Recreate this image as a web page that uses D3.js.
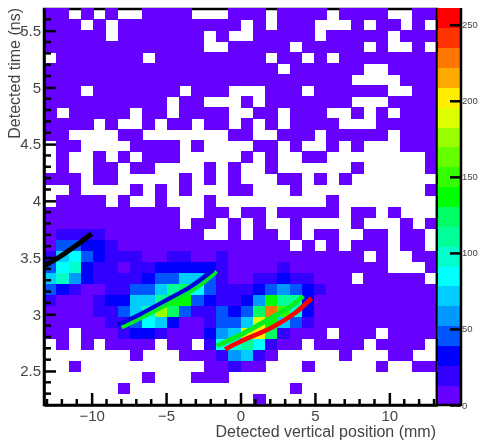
<!DOCTYPE html>
<html>
<head>
<meta charset="utf-8">
<script src="https://cdn.jsdelivr.net/npm/d3@7"></script>
<style>
html,body{margin:0;padding:0;background:#fff;}
svg{display:block;filter:blur(0.45px);}
text{font-family:"Liberation Sans",Arial,sans-serif;fill:#444;}
</style>
</head>
<body>
<div id="chart"></div>
<script>
// Histogram bin counts, top row first (0 = empty bin)
const counts = [
[4,4,0,4,0,4,0,0,4,4,4,4,0,0,0,4,4,4,0,4,4,4,4,0,4,4,4,4,0,0,4,4],
[4,4,4,0,4,0,4,4,4,4,4,4,4,4,4,4,0,4,0,4,4,4,0,0,0,4,0,4,4,0,4,0],
[4,4,4,4,4,0,4,4,4,4,4,4,4,0,4,0,0,4,4,4,4,4,0,4,4,4,4,4,0,4,4,4],
[4,4,4,4,4,4,4,4,4,4,4,4,4,0,0,4,4,4,4,4,0,4,4,4,4,4,0,4,0,0,4,0],
[0,4,4,4,4,4,4,4,0,4,4,4,4,4,4,4,4,4,0,4,4,0,4,0,4,4,4,4,4,4,4,4],
[4,4,4,4,4,4,4,4,4,4,4,4,4,4,4,4,4,4,4,0,4,4,4,4,4,4,0,0,4,4,4,4],
[4,4,4,4,4,4,4,4,4,4,4,4,4,4,4,4,4,4,4,4,4,4,4,4,4,0,0,0,0,4,4,4],
[4,4,4,0,4,4,4,4,4,4,4,0,4,4,4,0,0,0,4,4,4,0,4,4,4,4,4,4,0,0,4,4],
[4,4,4,4,4,4,4,4,4,4,0,4,4,0,0,0,4,0,4,4,4,4,4,4,4,0,0,0,4,4,4,4],
[4,0,4,4,4,4,4,0,4,4,0,4,4,4,4,0,0,4,4,0,4,4,4,0,0,4,0,4,0,4,4,4],
[4,4,4,4,0,4,0,0,4,0,4,4,0,4,4,0,4,0,4,0,4,4,4,4,0,0,0,4,4,4,4,4],
[4,4,0,0,0,0,4,4,0,0,0,0,0,0,0,4,4,0,0,4,4,4,0,4,4,4,4,4,0,4,4,4],
[0,4,4,0,0,0,0,4,4,4,4,0,4,0,0,0,0,4,4,0,4,0,0,4,0,4,0,0,0,4,4,4],
[0,4,0,0,4,0,4,0,4,4,4,0,0,0,0,0,4,0,4,0,0,4,4,0,0,0,0,0,0,0,0,4],
[0,4,0,0,4,4,0,4,4,0,0,0,0,4,0,4,0,0,4,0,0,0,0,0,0,4,0,0,0,0,0,4],
[4,4,4,0,4,4,0,0,0,0,0,4,0,4,0,4,0,0,0,4,4,0,4,0,4,0,0,0,0,0,0,0],
[0,0,4,0,0,0,0,4,0,4,0,4,0,0,0,4,4,0,0,0,4,0,0,0,0,0,0,0,0,0,0,4],
[0,4,4,4,4,0,4,0,0,4,0,0,0,4,0,0,0,0,0,0,0,0,0,4,0,0,0,0,0,0,0,0],
[4,4,4,4,4,4,4,4,4,4,4,0,0,4,4,0,4,4,0,4,4,4,4,4,0,4,4,0,4,0,0,0],
[4,4,4,4,4,4,4,4,4,4,4,0,4,4,0,4,0,4,0,0,4,0,0,0,0,4,0,0,0,4,0,4],
[4,20,20,20,20,4,4,4,4,4,4,4,4,0,0,4,0,4,4,0,4,0,4,4,0,0,4,4,0,4,4,0],
[4,46,46,33,33,20,4,4,4,4,4,4,4,4,4,4,4,4,4,4,0,4,0,4,0,4,4,4,0,4,4,0],
[20,72,85,46,33,20,20,20,4,4,20,20,4,4,20,4,4,4,4,4,4,4,4,4,4,4,0,4,0,0,4,4],
[46,85,98,33,20,20,4,20,20,33,33,33,33,33,20,4,4,4,4,20,4,4,4,4,4,4,4,4,0,0,0,4],
[72,98,59,33,20,20,20,20,33,46,46,72,72,46,20,4,4,20,20,33,20,20,4,4,4,0,4,4,4,4,4,0],
[46,33,20,4,4,20,20,46,46,72,111,124,85,46,20,20,20,33,46,59,46,33,20,4,4,4,4,4,4,4,4,4],
[20,4,4,4,20,33,33,72,72,111,137,137,46,33,20,20,33,59,137,111,111,33,4,4,4,4,4,4,4,4,4,4],
[4,4,4,4,20,20,46,72,98,176,124,46,20,20,46,33,46,124,228,150,98,33,4,4,4,4,4,4,4,4,4,4],
[4,4,4,4,4,20,20,46,85,72,33,4,4,20,46,46,72,189,137,72,46,20,4,4,4,4,4,4,4,4,4,4],
[4,4,0,4,4,4,20,33,33,20,4,4,4,33,59,72,189,202,124,20,4,4,4,0,4,4,4,0,4,4,4,4],
[0,4,0,4,0,4,4,4,4,0,4,4,0,20,85,98,111,85,20,4,4,0,4,4,4,4,0,4,4,4,4,0],
[0,0,0,0,0,0,0,4,0,0,0,4,4,4,20,59,72,20,4,0,0,0,0,0,4,0,0,0,4,4,0,0],
[0,0,4,0,0,0,0,0,0,0,0,0,0,4,4,20,4,4,0,0,0,4,0,0,0,0,0,4,0,0,4,4],
[0,0,0,0,0,0,0,0,4,0,0,0,4,4,4,0,0,0,0,0,0,0,0,0,0,0,0,0,0,0,0,0],
[0,0,0,0,0,0,4,0,0,0,0,0,0,0,0,0,0,0,0,0,4,0,0,0,0,0,0,0,0,0,0,0],
[0,0,0,0,0,0,0,0,0,0,0,0,0,0,0,0,0,4,0,0,0,0,0,0,0,0,0,0,0,0,0,0]
];

const palette = ["#6600ff","#3300ff","#0000ff","#0055ff","#0099ff","#00ccff","#00ffff","#00ffcc","#00ff99","#00ff66","#00ff00","#33ff00","#66ff00","#99ff00","#ddff00","#ffee00","#ffaa00","#ff7700","#ff3300","#ff0000"];
const zMax = 261;

const xDomain = [-13.2, 13.2];
const yDomain = [2.2, 5.7];
const xMajor = [-10, -5, 0, 5, 10];
const xLabels = ["\u221210", "\u22125", "0", "5", "10"];
const xMinor = [-13,-12,-11,-9,-8,-7,-6,-4,-3,-2,-1,1,2,3,4,6,7,8,9,11,12,13];
const yMajor = [2.5, 3, 3.5, 4, 4.5, 5, 5.5];
const yLabels = ["2.5", "3", "3.5", "4", "4.5", "5", "5.5"];
const yMinor = [2.3,2.4,2.6,2.7,2.8,2.9,3.1,3.2,3.3,3.4,3.6,3.7,3.8,3.9,4.1,4.2,4.3,4.4,4.6,4.7,4.8,4.9,5.1,5.2,5.3,5.4,5.6];
const zMajor = [0, 50, 100, 150, 200, 250];

// Overlaid curves [position mm, time ns]
const curveBlack = [[-13.15,3.43],[-12,3.52],[-11,3.61],[-10,3.71]];
const curveBlue  = [[-8.27,2.905],[-6.75,3.0],[-4.96,3.126],[-3.39,3.24],[-1.83,3.39]];
const curveGreenA = [[-7.98,2.883],[-6.41,2.985],[-4.73,3.099],[-3.06,3.223],[-1.6,3.377]];
const curveGreenB = [[-1.6,2.72],[-0.03,2.817],[2.2,2.978],[3.32,3.064],[4.22,3.161]];
const curveRed   = [[-1.04,2.691],[-0.03,2.758],[2.2,2.89],[3.66,3.011],[4.78,3.141]];

const W = 479, H = 442;
const L = 44, R = 437, T = 8, B = 405;
const barL = 438, barR = 461;

const svg = d3.select("#chart").append("svg").attr("width", W).attr("height", H);

const x = d3.scaleLinear().domain(xDomain).range([L, R]);
const y = d3.scaleLinear().domain(yDomain).range([B, T]);
const colBand = d3.scaleBand().domain(d3.range(counts[0].length)).range([L, R]);
const rowBand = d3.scaleBand().domain(d3.range(counts.length)).range([T, B]);
const zStep = zMax / palette.length;
const color = d3.scaleQuantize().domain([0, zMax]).range(palette);
const z = d3.scaleLinear().domain([0, zMax]).range([B, T]);

const black = "#000";

// frame under the cells
svg.append("rect").attr("x", L).attr("y", T + 1).attr("width", R - L).attr("height", B - T - 1)
  .attr("fill", "#fff").attr("stroke", black).attr("stroke-width", 2.5);

// heat cells
const cells = [];
counts.forEach((row, j) => row.forEach((v, i) => { if (v > 0) cells.push({i, j, v}); }));
svg.append("g").attr("shape-rendering", "crispEdges").selectAll("rect").data(cells).join("rect")
  .attr("x", d => colBand(d.i))
  .attr("y", d => rowBand(d.j))
  .attr("width", colBand.bandwidth() + 0.5)
  .attr("height", rowBand.bandwidth() + 0.5)
  .attr("fill", d => color(d.v));

// colour bar
svg.append("g").attr("shape-rendering", "crispEdges").selectAll("rect").data(palette).join("rect")
  .attr("x", barL).attr("width", barR - barL)
  .attr("y", (c, k) => z((k + 1) * zStep))
  .attr("height", (c, k) => z(k * zStep) - z((k + 1) * zStep) + 0.5)
  .attr("fill", c => c);
svg.append("line").attr("x1", barR).attr("x2", barR).attr("y1", T).attr("y2", B + 1)
  .attr("stroke", black).attr("stroke-width", 2.5);
svg.append("line").attr("x1", R).attr("x2", barR).attr("y1", B).attr("y2", B)
  .attr("stroke", black).attr("stroke-width", 2.5);
svg.append("line").attr("x1", R - 0.5).attr("x2", R - 0.5).attr("y1", T).attr("y2", B)
  .attr("stroke", black).attr("stroke-width", 1.5);

// curves
const line = d3.line().x(d => x(d[0])).y(d => y(d[1])).curve(d3.curveCatmullRom);
function drawCurve(pts, col, w) {
  svg.append("path").datum(pts).attr("d", line).attr("fill", "none")
    .attr("stroke", col).attr("stroke-width", w);
}
drawCurve(curveGreenA, "#00ee22", 4);
drawCurve(curveBlue, "#0000dd", 4.2);
drawCurve(curveGreenB, "#00ee22", 5);
drawCurve(curveRed, "#ff0000", 4.6);
drawCurve(curveBlack, "#000", 5);

// axes
function styleAxis(g, fs) {
  g.selectAll(".tick line").attr("stroke", black).attr("stroke-width", 2.5);
  g.select(".domain").attr("stroke", black).attr("stroke-width", 2.6);
  g.selectAll("text").style("font-size", fs + "px").style("fill", "#444");
}

const gLeft = svg.append("g").attr("transform", `translate(${L},0)`)
  .call(d3.axisLeft(y).tickValues(yMajor).tickSize(-12).tickSizeOuter(0).tickPadding(3)
    .tickFormat((d, k) => yLabels[k]));
styleAxis(gLeft, 15);
gLeft.selectAll("g.minor").data(yMinor).join("g").attr("class", "minor")
  .append("line").attr("x1", 0).attr("x2", 7).attr("y1", d => y(d)).attr("y2", d => y(d))
  .attr("stroke", black).attr("stroke-width", 2.5);

const gBottom = svg.append("g").attr("transform", `translate(0,${B})`)
  .call(d3.axisBottom(x).tickValues(xMajor).tickSize(-12).tickSizeOuter(0).tickPadding(5)
    .tickFormat((d, k) => xLabels[k]));
styleAxis(gBottom, 15);
gBottom.selectAll("g.minor").data(xMinor).join("g").attr("class", "minor")
  .append("line").attr("y1", 0).attr("y2", -6).attr("x1", d => x(d)).attr("x2", d => x(d))
  .attr("stroke", black).attr("stroke-width", 2.5);

const gBar = svg.append("g").attr("transform", `translate(${barR},0)`)
  .call(d3.axisRight(z).tickValues(zMajor).tickSize(-11).tickSizeOuter(0).tickPadding(1));
styleAxis(gBar, 9.5);
gBar.select(".domain").remove();

// titles
svg.append("text").attr("x", 436).attr("y", 437).attr("text-anchor", "end")
  .style("font-size", "16px").text("Detected vertical position (mm)");
svg.append("text").attr("transform", "translate(20,8) rotate(-90)").attr("text-anchor", "end")
  .style("font-size", "16px").text("Detected time (ns)");
</script>
</body>
</html>
